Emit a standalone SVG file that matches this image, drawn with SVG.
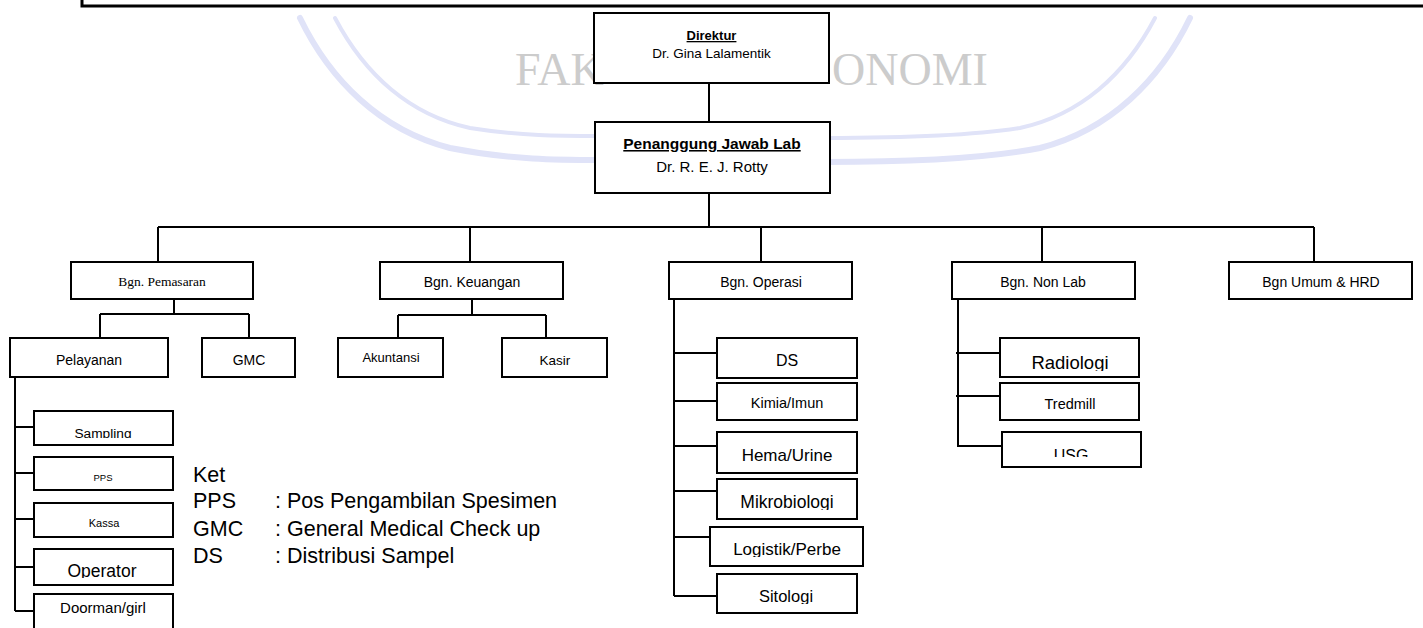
<svg xmlns="http://www.w3.org/2000/svg" width="1423" height="628" viewBox="0 0 1423 628">
<style>
.box{fill:#fff;stroke:#000;stroke-width:2}
.ln{fill:none;stroke:#000;stroke-width:2}
.t{font-family:"Liberation Sans",Arial,sans-serif;fill:#000;text-anchor:middle}
.s{font-family:"Liberation Serif","Times New Roman",serif;fill:#000;text-anchor:middle}
.b{font-weight:bold;text-decoration:underline}
.lg{font-family:"Liberation Sans",Arial,sans-serif;font-size:21.5px;fill:#000}
.wm{fill:none;stroke:#e0e3f8;stroke-linecap:round}
.wt{font-family:"Liberation Serif","Times New Roman",serif;font-size:46px;fill:#cccccc}
</style>
<defs>
<clipPath id="c290"><rect x="0" y="0" width="1423" height="290"/></clipPath>
<clipPath id="c438"><rect x="0" y="0" width="1423" height="438"/></clipPath>
<clipPath id="c578"><rect x="0" y="0" width="1423" height="578"/></clipPath>
<clipPath id="c510"><rect x="0" y="0" width="1423" height="510"/></clipPath>
<clipPath id="c557"><rect x="0" y="0" width="1423" height="557"/></clipPath>
<clipPath id="c604"><rect x="0" y="0" width="1423" height="604"/></clipPath>
<clipPath id="c371"><rect x="0" y="0" width="1423" height="371"/></clipPath>
<clipPath id="c457"><rect x="0" y="0" width="1423" height="457"/></clipPath>
</defs>
<rect width="1423" height="628" fill="#fff"/>
<g id="watermark">
<path class="wm" stroke-width="6" d="M300,18 C330,80 380,130 450,148 C510,160 560,160 600,160"/>
<path class="wm" stroke-width="4" d="M335,18 C365,75 410,115 470,128 C520,136 560,136 600,136"/>
<path class="wm" stroke-width="6" d="M1190,18 C1160,80 1110,130 1040,148 C980,160 900,162 825,162"/>
<path class="wm" stroke-width="4" d="M1155,18 C1125,75 1080,115 1020,128 C970,136 900,138 825,138"/>
<text class="wt" x="515" y="85">FAK</text>
<text class="wt" x="832" y="85">ONOMI</text>
</g>
<g id="frame"><path d="M82,-5 V6 H1430" fill="none" stroke="#000" stroke-width="3"/></g>
<g id="connectors">
<path class="ln" d="M709,83 V122 M709,193 V227 M158,227 H1314 M158,227 V262 M470,227 V262 M761,227 V262 M1042,227 V262 M1314,227 V262"/>
<path class="ln" d="M174,299 V314 M100,314 H249 M100,314 V338 M249,314 V338"/>
<path class="ln" d="M472,299 V315 M398,315 H546 M398,315 V338 M546,315 V338"/>
<path class="ln" d="M15,377 V611 M15,427 H34 M15,473 H34 M15,519 H34 M15,567 H34 M15,611 H34"/>
<path class="ln" d="M674,299 V596 M674,353 H717 M674,401 H717 M674,446 H717 M674,491 H717 M674,537 H710 M674,596 H717"/>
<path class="ln" d="M958,299 V446 H1002 M956,353 H1000 M956,396 H1000"/>
</g>
<g id="n-direktur"><rect class="box" x="594" y="13" width="235" height="70"/>
<text class="t b" x="711.5" y="40" font-size="13">Direktur</text>
<text class="t" x="711.5" y="58" font-size="13.5">Dr. Gina Lalamentik</text></g>
<g id="n-pjlab"><rect class="box" x="595" y="122" width="235" height="71"/>
<text class="t b" x="712" y="149" font-size="15.5">Penanggung Jawab Lab</text>
<text class="t" x="712" y="172" font-size="15">Dr. R. E. J. Rotty</text></g>
<g id="n-pemasaran"><rect class="box" x="71" y="262" width="182" height="37"/>
<text class="s" x="162" y="286" font-size="13.5">Bgn. Pemasaran</text></g>
<g id="n-keuangan"><rect class="box" x="380" y="262" width="183" height="37"/>
<text class="t" x="472" y="287" font-size="14" clip-path="url(#c290)">Bgn. Keuangan</text></g>
<g id="n-operasi"><rect class="box" x="669" y="262" width="183" height="37"/>
<text class="t" x="761" y="287" font-size="14" clip-path="url(#c290)">Bgn. Operasi</text></g>
<g id="n-nonlab"><rect class="box" x="952" y="262" width="183" height="37"/>
<text class="t" x="1043" y="287" font-size="14" clip-path="url(#c290)">Bgn. Non Lab</text></g>
<g id="n-umum"><rect class="box" x="1229" y="262" width="183" height="37"/>
<text class="t" x="1321" y="287" font-size="14" clip-path="url(#c290)">Bgn Umum &amp; HRD</text></g>
<g id="n-pelayanan"><rect class="box" x="10" y="338" width="158" height="39"/>
<text class="t" x="89" y="365" font-size="14">Pelayanan</text></g>
<g id="n-gmc"><rect class="box" x="202" y="338" width="93" height="39"/>
<text class="t" x="249" y="365" font-size="14">GMC</text></g>
<g id="n-akuntansi"><rect class="box" x="338" y="338" width="105" height="39"/>
<text class="t" x="391" y="362" font-size="13">Akuntansi</text></g>
<g id="n-kasir"><rect class="box" x="502" y="338" width="105" height="39"/>
<text class="t" x="555" y="365" font-size="13.5">Kasir</text></g>
<g id="n-sampling"><rect class="box" x="34" y="411" width="139" height="34"/>
<text class="t" x="103" y="438" font-size="13.7" clip-path="url(#c438)">Sampling</text></g>
<g id="n-pps"><rect class="box" x="34" y="457" width="139" height="33"/>
<text class="t" x="103" y="481" font-size="9.5">PPS</text></g>
<g id="n-kassa"><rect class="box" x="34" y="503" width="139" height="34"/>
<text class="t" x="104" y="527" font-size="11">Kassa</text></g>
<g id="n-operator"><rect class="box" x="34" y="549" width="139" height="36"/>
<text class="t" x="102" y="577" font-size="17.5" clip-path="url(#c578)">Operator</text></g>
<g id="n-doorman"><rect class="box" x="34" y="594" width="139" height="46"/>
<text class="t" x="103" y="613" font-size="15">Doorman/girl</text></g>
<g id="n-ds"><rect class="box" x="717" y="338" width="140" height="40"/>
<text class="t" x="787" y="366" font-size="16">DS</text></g>
<g id="n-kimia"><rect class="box" x="717" y="383" width="140" height="37"/>
<text class="t" x="787" y="408" font-size="14.5">Kimia/Imun</text></g>
<g id="n-hema"><rect class="box" x="717" y="432" width="140" height="41"/>
<text class="t" x="787" y="461" font-size="17">Hema/Urine</text></g>
<g id="n-mikro"><rect class="box" x="717" y="479" width="140" height="40"/>
<text class="t" x="787" y="508" font-size="17.5" clip-path="url(#c510)">Mikrobiologi</text></g>
<g id="n-logistik"><rect class="box" x="710" y="527" width="153" height="39"/>
<text class="t" x="787" y="555" font-size="17" clip-path="url(#c557)">Logistik/Perbe</text></g>
<g id="n-sitologi"><rect class="box" x="717" y="574" width="140" height="39"/>
<text class="t" x="786" y="602" font-size="16.5" clip-path="url(#c604)">Sitologi</text></g>
<g id="n-radiologi"><rect class="box" x="1000" y="338" width="139" height="39"/>
<text class="t" x="1070" y="369" font-size="18.5" clip-path="url(#c371)">Radiologi</text></g>
<g id="n-tredmill"><rect class="box" x="1000" y="383" width="139" height="37"/>
<text class="t" x="1070" y="409" font-size="14.5">Tredmill</text></g>
<g id="n-usg"><rect class="box" x="1002" y="432" width="139" height="35"/>
<text class="t" x="1071" y="461" font-size="16" clip-path="url(#c457)">USG</text></g>
<g id="legend">
<text class="lg" x="193" y="482">Ket</text>
<text class="lg" x="193" y="508">PPS</text>
<text class="lg" x="193" y="536">GMC</text>
<text class="lg" x="193" y="563">DS</text>
<text class="lg" x="275" y="508">: Pos Pengambilan Spesimen</text>
<text class="lg" x="275" y="536">: General Medical Check up</text>
<text class="lg" x="275" y="563">: Distribusi Sampel</text>
</g>
</svg>
